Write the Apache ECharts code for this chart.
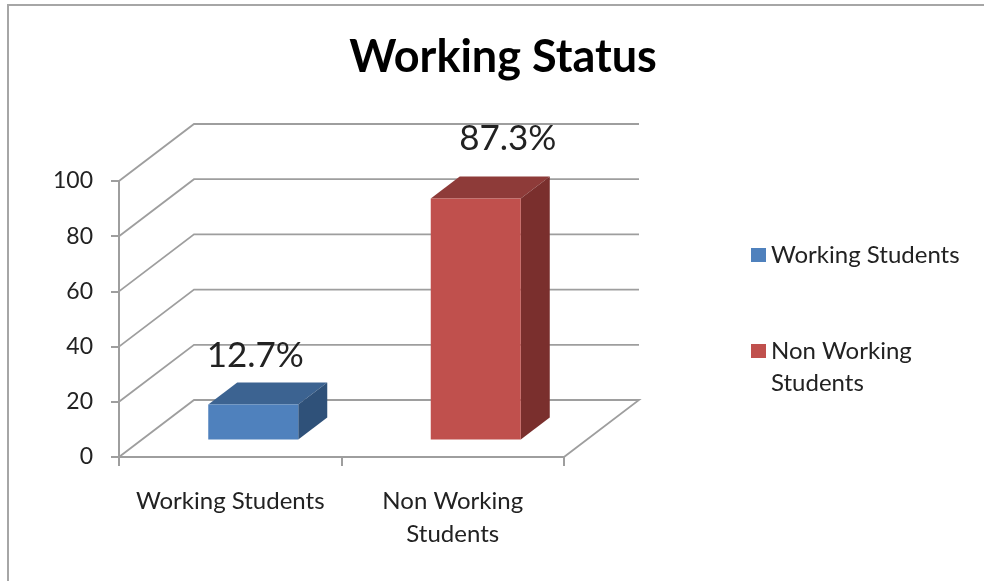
<!DOCTYPE html>
<html>
<head>
<meta charset="utf-8">
<script src="https://cdn.jsdelivr.net/npm/echarts@6/dist/echarts.min.js"></script>
<style>
  html, body { margin: 0; padding: 0; background: #fff; }
  #chart { width: 984px; height: 581px; }
</style>
</head>
<body>
<div id="chart"></div>
<script>
const categories = ['Working Students', 'Non Working\nStudents'];
const values = [12.7, 87.3];
const yTicks = [0, 20, 40, 60, 80, 100];

const fontName = 'Lato';
const gridColor = '#9e9e9e';
const textColor = '#222';
const colors = [
  { front: '#4f81bd', top: '#3c6391', side: '#2f5179' },
  { front: '#c0504d', top: '#8e3b39', side: '#7a2f2d' }
];
const labelShift = [[2, -49], [32, -60]];

// depth of the floor and of the bars, in pixels
const wallDx = 75, wallDy = -57;
const barDx = 29, barDy = -22;
const barWidth = 90;

function renderWall(params, api) {
  let g = params.coordSys;
  let y = api.coord([0, api.value(0)])[1];
  let pts = [[g.x, y], [g.x + wallDx, y + wallDy], [g.x + g.width + wallDx, y + wallDy]];
  if (api.value(0) === 0) {
    pts.push([g.x + g.width, y]);
  }
  return {
    type: 'polyline',
    shape: { points: pts },
    style: { stroke: gridColor, lineWidth: 1.8, fill: null }
  };
}

function renderBar(params, api) {
  let c = colors[params.seriesIndex - 1];
  let shift = labelShift[params.seriesIndex - 1];
  let val = api.value(1);
  let base = api.coord([api.value(0), 0]);
  let tip = api.coord([api.value(0), val]);
  let x0 = base[0] + (wallDx - barDx) / 2 - barWidth / 2;
  let x1 = x0 + barWidth;
  let yOff = (wallDy - barDy) / 2;
  let yb = base[1] + yOff;
  let yt = tip[1] + yOff;
  return {
    type: 'group',
    children: [
      {
        type: 'polygon',
        shape: { points: [[x0, yt], [x1, yt], [x1 + barDx, yt + barDy], [x0 + barDx, yt + barDy]] },
        style: { fill: c.top }
      },
      {
        type: 'polygon',
        shape: { points: [[x1, yb], [x1, yt], [x1 + barDx, yt + barDy], [x1 + barDx, yb + barDy]] },
        style: { fill: c.side }
      },
      {
        type: 'rect',
        shape: { x: x0, y: yt, width: barWidth, height: yb - yt },
        style: { fill: c.front }
      },
      {
        type: 'text',
        style: {
          x: (x0 + x1) / 2 + shift[0],
          y: yt + shift[1],
          text: val.toFixed(1) + '%',
          fill: textColor,
          font: '35px ' + fontName,
          align: 'center',
          verticalAlign: 'middle'
        }
      }
    ]
  };
}

let chart = echarts.init(document.getElementById('chart'));
let barSeries = categories.map(function (name, i) {
  return {
    name: name,
    type: 'custom',
    renderItem: renderBar,
    itemStyle: { color: colors[i].front },
    encode: { x: 0, y: 1 },
    data: [[i, values[i]]],
    z: 3
  };
});

chart.setOption({
  animation: false,
  backgroundColor: '#fff',
  title: {
    text: 'Working Status',
    left: 498,
    top: 30,
    textAlign: 'center',
    textStyle: { fontFamily: fontName, fontSize: 45, fontWeight: 'bold', color: '#000' }
  },
  grid: { left: 119, top: 181, width: 445, height: 276 },
  legend: [
    {
      left: 751,
      top: 239,
      data: [categories[0]],
      icon: 'rect',
      itemWidth: 15,
      itemHeight: 14,
      itemGap: 0,
      padding: 0,
      selectedMode: false,
      textStyle: { fontFamily: fontName, fontSize: 24, color: textColor, lineHeight: 32 }
    },
    {
      left: 751,
      top: 303,
      data: [categories[1]],
      icon: 'rect',
      itemWidth: 15,
      itemHeight: 14,
      itemGap: 0,
      padding: 0,
      selectedMode: false,
      // blank first line keeps the icon level with "Non Working"
      formatter: function (name) { return ' \n' + name; },
      textStyle: { fontFamily: fontName, fontSize: 24, color: textColor, lineHeight: 32 }
    }
  ],
  xAxis: {
    type: 'category',
    data: categories,
    axisLine: { lineStyle: { color: gridColor, width: 2 } },
    axisTick: { show: true, interval: 0, length: 9, lineStyle: { color: gridColor, width: 2 } },
    axisLabel: { interval: 0, hideOverlap: false, margin: 28, fontFamily: fontName, fontSize: 24, color: textColor, lineHeight: 33 },
    splitLine: { show: false }
  },
  yAxis: {
    type: 'value',
    min: 0,
    max: 100,
    interval: 20,
    axisLine: { show: true, lineStyle: { color: gridColor, width: 2 } },
    axisTick: { show: true, length: 8, lineStyle: { color: gridColor, width: 2 } },
    axisLabel: { margin: 26, padding: [3, 0, 0, 0], fontFamily: fontName, fontSize: 23, color: textColor },
    splitLine: { show: false }
  },
  graphic: [
    {
      type: 'polyline',
      shape: { points: [[8, 581], [8, 5], [984, 5]] },
      style: { stroke: '#a6a6a6', lineWidth: 2, fill: null }
    }
  ],
  series: [
    {
      type: 'custom',
      renderItem: renderWall,
      encode: { y: 0 },
      data: yTicks.map(function (v) { return [v]; }),
      z: 1
    }
  ].concat(barSeries)
});
</script>
</body>
</html>
